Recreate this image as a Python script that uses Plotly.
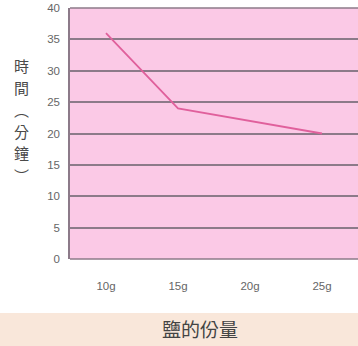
import plotly.graph_objects as go

salt_g = [10, 15, 25]
minutes = [36, 24, 20]
tick_vals = [10, 15, 20, 25]
tick_text = ["10g", "15g", "20g", "25g"]
y_ticks = [0, 5, 10, 15, 20, 25, 30, 35, 40]
y_title_chars = ["時", "間", "︵", "分", "鐘", "︶"]
x_title = "鹽的份量"

H, T, B = 346, 8, 87
plot_h = H - T - B
def py(pixel):
    return (H - B - pixel) / plot_h

fig = go.Figure()
fig.add_trace(go.Scatter(x=salt_g, y=minutes, mode="lines",
                         line=dict(color="#e0609c", width=1.8), showlegend=False))

annotations = []
for i, ch in enumerate(y_title_chars):
    annotations.append(dict(
        text=ch, xref="paper", yref="paper", x=-0.168, y=py(65 + 22 * i),
        showarrow=False, xanchor="center", yanchor="middle",
        font=dict(size=15, color="#4a4a4a", family="Noto Sans CJK TC")))
annotations.append(dict(text=x_title, xref="paper", yref="paper", x=0.45, y=py(328),
                        showarrow=False, xanchor="center", yanchor="middle",
                        font=dict(size=19, color="#444444", family="Noto Sans CJK TC")))

grid_c = "#8c7a89"
fig.update_layout(
    width=358, height=346,
    margin=dict(l=70, r=0, t=T, b=B),
    paper_bgcolor="white",
    plot_bgcolor="#fbc9e6",
    font=dict(family="Noto Sans CJK TC, Noto Sans, sans-serif", color="#666666"),
    xaxis=dict(range=[7.5, 27.5], tickvals=tick_vals, ticktext=tick_text,
               showgrid=False, zeroline=False, showline=False,
               ticks="", tickfont=dict(size=11.5, color="#666666", family="Liberation Sans, Arial"),
               ticklabelstandoff=18, fixedrange=True),
    yaxis=dict(range=[0, 40], tickvals=y_ticks, showgrid=True,
               gridcolor=grid_c, gridwidth=1.5, zeroline=False,
               showline=True, linecolor=grid_c, linewidth=1.5,
               ticks="", tickfont=dict(size=11.5, color="#666666", family="Liberation Sans, Arial"),
               ticklabelstandoff=6, fixedrange=True),
    shapes=[
        dict(type="rect", xref="paper", yref="paper", x0=-0.3, x1=1.05,
             y0=py(350), y1=py(313), fillcolor="#f9e7da", line=dict(width=0),
             layer="below"),
        dict(type="line", xref="paper", yref="paper", x0=0, x1=1, y0=1, y1=1,
             line=dict(color=grid_c, width=1.5)),
        dict(type="line", xref="paper", yref="paper", x0=0, x1=1, y0=0, y1=0,
             line=dict(color=grid_c, width=1.5)),
    ],
    annotations=annotations,
)

fig.write_html("out.html")
